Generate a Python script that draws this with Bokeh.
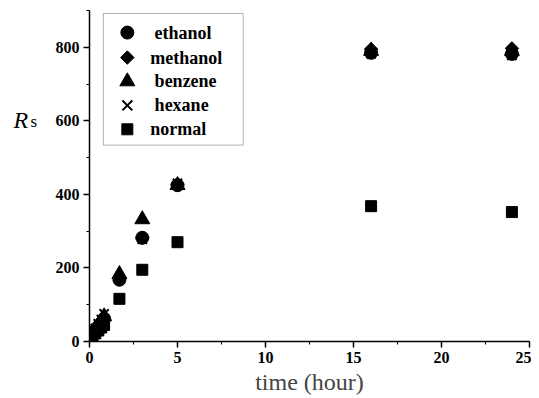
import math
from bokeh.plotting import figure
from bokeh.models import Range1d, Label, SingleIntervalTicker, BoxAnnotation
from bokeh.embed import file_html
from bokeh.resources import INLINE

time = [0.17, 0.33, 0.5, 0.67, 0.83, 1.7, 3, 5, 16, 24]
ethanol = [20, 30, 40, 50, 62, 168, 282, 425, 785, 782]
methanol = [22, 32, 42, 52, 60, 172, 282, 428, 795, 797]
benzene = [25, 35, 45, 55, 68, 183, 332, 425, 790, 790]
hexane = [25, 35, 48, 60, 75, 168, 278, 430, 782, 778]
normal = [15, 22, 30, 38, 45, 116, 195, 270, 368, 352]

series_names = ["ethanol", "methanol", "benzene", "hexane", "normal"]
markers = ["circle", "square", "triangle", "x", "square"]
angles = [0, math.pi / 4, 0, 0, 0]
sizes = [13, 9.5, 15, 13, 11]

p = figure(width=531, height=397, output_backend="svg", toolbar_location=None,
           x_range=Range1d(0, 25), y_range=Range1d(0, 900),
           min_border_left=89, min_border_right=2, min_border_top=10, min_border_bottom=55)
p.outline_line_color = None
p.xgrid.visible = False
p.ygrid.visible = False

for vals, m, s, a in zip([ethanol, methanol, benzene, hexane, normal], markers, sizes, angles):
    if m == "x":
        p.scatter(time, vals, marker=m, size=s, line_color="black", line_width=2)
    else:
        p.scatter(time, vals, marker=m, size=s, angle=a, color="black")

for ax in (p.xaxis[0], p.yaxis[0]):
    ax.axis_line_color = "black"
    ax.axis_line_width = 1.5
    ax.major_tick_in = 0
    ax.major_tick_out = 6
    ax.minor_tick_in = 0
    ax.minor_tick_out = 3
    ax.major_tick_line_width = 1.5
    ax.major_label_text_font = "Liberation Serif"
    ax.major_label_text_font_style = "bold"
    ax.major_label_text_font_size = "16px"
    ax.major_label_text_color = "black"

p.xaxis.ticker = SingleIntervalTicker(interval=5, num_minor_ticks=2)
p.yaxis.ticker = SingleIntervalTicker(interval=200, num_minor_ticks=2)
p.xaxis.axis_label = "time (hour)"
p.xaxis.axis_label_text_font = "Liberation Serif"
p.xaxis.axis_label_text_font_style = "normal"
p.xaxis.axis_label_text_font_size = "24px"
p.xaxis.axis_label_standoff = 3
p.xaxis.major_label_standoff = 4
p.yaxis.major_label_standoff = 4

# y-axis label R_s placed in the left side panel
p.add_layout(Label(x=-24, y=602, x_units="screen", text="R",
                   text_font="Liberation Serif", text_font_style="italic",
                   text_font_size="24px", text_color="black",
                   text_baseline="alphabetic"), "left")
p.add_layout(Label(x=0, y=599, x_units="screen", text="s",
                   text_font="Liberation Serif", text_font_size="17px", text_color="black",
                   text_baseline="alphabetic"), "left")

# legend box drawn in the frame
p.add_layout(BoxAnnotation(left=0.79, right=8.73, bottom=534, top=892,
                           fill_color="white", fill_alpha=1.0,
                           line_color="black", line_width=1, level="underlay"))
leg_x = 2.15
leg_text_x = [3.7, 3.45, 3.7, 3.7, 3.45]
leg_y = [840, 772, 707, 642, 577]
for name, m, s, a, yy, tx in zip(series_names, markers, sizes, angles, leg_y, leg_text_x):
    if m == "x":
        p.scatter([leg_x], [yy], marker=m, size=14, line_color="black", line_width=2)
    else:
        p.scatter([leg_x], [yy], marker=m, size=s, angle=a, color="black")
    p.add_layout(Label(x=tx, y=yy, text=name, text_font="Liberation Serif",
                       text_font_style="bold", text_font_size="18px", text_color="black",
                       text_baseline="middle"))

open("out.html", "w").write(file_html(p, INLINE))
